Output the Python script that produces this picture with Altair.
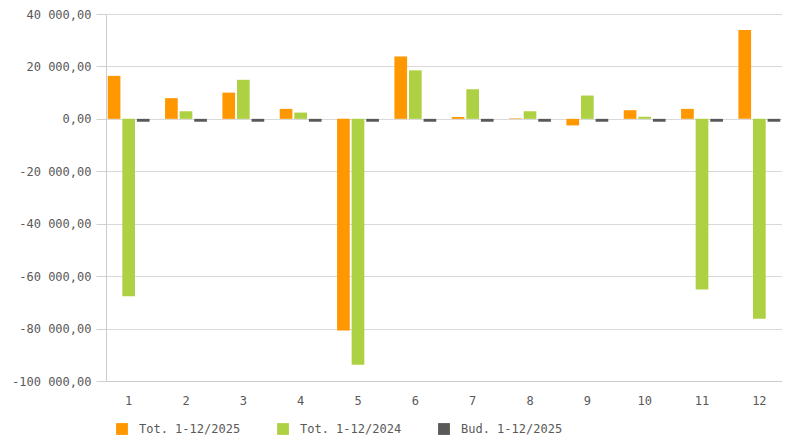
import altair as alt
import pandas as pd

months = ["1", "2", "3", "4", "5", "6", "7", "8", "9", "10", "11", "12"]
series_names = ["Tot. 1-12/2025", "Tot. 1-12/2024", "Bud. 1-12/2025"]
tot_2025 = [16400, 7900, 10000, 3800, -80700, 23800, 700, 200, -2500, 3300, 3800, 33900]
tot_2024 = [-67700, 2900, 14900, 2400, -93800, 18500, 11300, 2900, 8900, 800, -65100, -76300]
bud_2025 = [-1100, -1100, -1100, -1100, -1100, -1100, -1100, -1100, -1100, -1100, -1100, -1100]
colors = ["#FF9700", "#AED143", "#595959"]
y_ticks = [40000, 20000, 0, -20000, -40000, -60000, -80000, -100000]

rows = []
for name, vals in zip(series_names, [tot_2025, tot_2024, bud_2025]):
    for m, v in zip(months, vals):
        rows.append({"month": m, "series": name, "value": v})
df = pd.DataFrame(rows)

FONT = "DejaVu Sans Mono"
GRAY = "#595959"

label_expr = ("replace(replace(replace(format(datum.value, ',.2f'), regexp(',', 'g'), ' '), '.', ','), '\u2212', '-')")

chart = alt.Chart(df).mark_bar().encode(
    x=alt.X("month:N", sort=months, title=None,
            scale=alt.Scale(paddingInner=0.27, paddingOuter=0.03),
            axis=alt.Axis(labelAngle=0, ticks=False, domain=True, domainColor="#cccccc",
                          labelPadding=14, labelFont=FONT, labelFontSize=12,
                          labelColor=GRAY, grid=False)),
    xOffset=alt.XOffset("series:N", sort=series_names,
                        scale=alt.Scale(paddingInner=0.13)),
    y=alt.Y("value:Q", title=None,
            scale=alt.Scale(domain=[-100000, 40000], nice=False),
            axis=alt.Axis(values=y_ticks, labelExpr=label_expr, labelFont=FONT,
                          labelFontSize=12, labelColor=GRAY, tickSize=10,
                          tickColor="#d0d0d0", labelPadding=5, domainColor="#cccccc",
                          gridColor="#d9d9d9")),
    color=alt.Color("series:N", sort=series_names,
                    scale=alt.Scale(domain=series_names, range=colors),
                    legend=alt.Legend(title=None, orient="none", direction="horizontal",
                                      legendX=10, legendY=409, symbolType="square",
                                      symbolSize=140, symbolStrokeWidth=0,
                                      labelFont=FONT, labelFontSize=12, labelColor=GRAY,
                                      columnPadding=36, labelOffset=11)),
).properties(
    width=676, height=367,
    padding={"left": 3, "right": 0, "top": 0, "bottom": 0},
).configure_view(stroke=None)

chart.save("out.html", embed_options={"renderer": "svg", "actions": False})
